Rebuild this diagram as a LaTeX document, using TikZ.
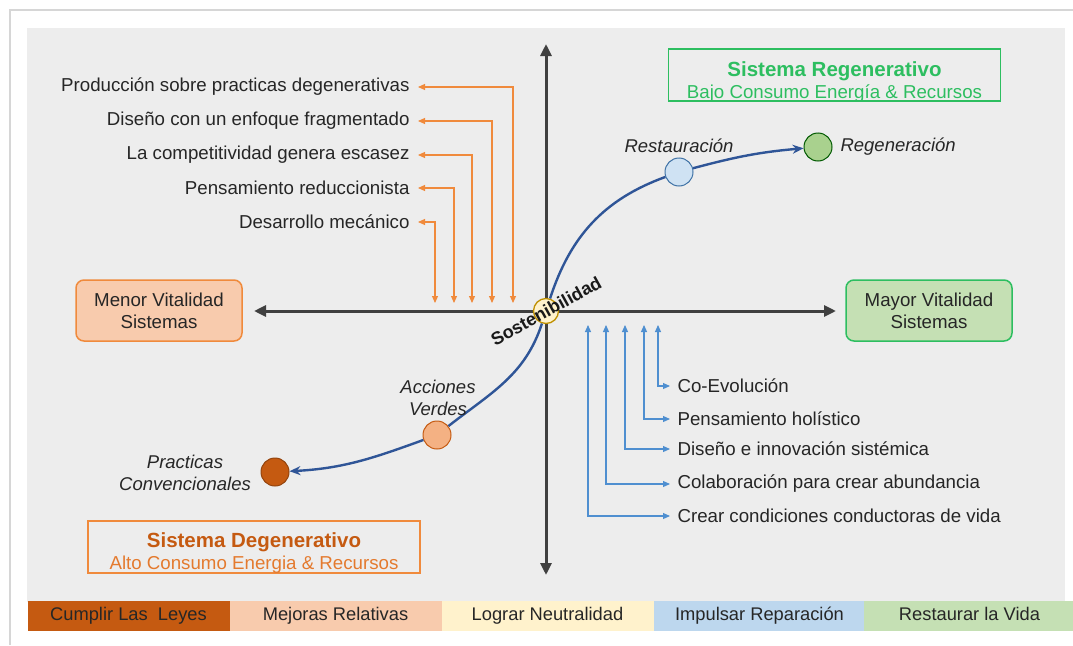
\documentclass[tikz,border=0pt]{standalone}
\usepackage{fontspec}
\setmainfont{Liberation Sans}
\usetikzlibrary{arrows.meta,positioning}
\definecolor{panel}{HTML}{EDEDED}
\definecolor{frame}{HTML}{D6D6D6}
\definecolor{axisc}{HTML}{404040}
\definecolor{txt}{HTML}{262626}
\definecolor{orng}{HTML}{F08A3C}
\definecolor{blu}{HTML}{4F8FD0}
\definecolor{curvec}{HTML}{2F5597}
\definecolor{regc}{HTML}{2DBE60}
\definecolor{degc}{HTML}{C55A11}
\definecolor{degl}{HTML}{E47A2E}
\definecolor{verdc}{HTML}{F4B183}
\definecolor{restc}{HTML}{CFE2F3}
\definecolor{regd}{HTML}{A9D18E}
\definecolor{sostc}{HTML}{BF9000}
\definecolor{barA}{HTML}{C55A11}
\definecolor{barB}{HTML}{F8CBAD}
\definecolor{barC}{HTML}{FFF2CC}
\definecolor{barD}{HTML}{BDD7EE}
\definecolor{barE}{HTML}{C5E0B4}

\begin{document}
\begin{tikzpicture}[x=1pt, y=-1pt,
    every node/.style={text=txt, font=\fontsize{18.7}{22}\selectfont},
    axis/.style={draw=axisc, line width=3pt, >={Triangle[length=12pt,width=11pt]}, <->},
    orngline/.style={draw=orng, line width=1.1pt, >={Triangle[length=7pt,width=6pt]}, <->},
    bluline/.style={draw=blu, line width=1.1pt, >={Triangle[length=7pt,width=6pt]}, <->},
    curveline/.style={draw=curvec, line width=2.4pt, >={Stealth[length=11pt,width=9pt]}},
    dot/.style={circle, minimum size=28pt, inner sep=0pt, line width=1pt},
    vitbox/.style={rounded corners=8pt, line width=1.5pt, minimum width=166pt, minimum height=61pt, align=center},
    sysbox/.style={line width=1.5pt, minimum width=332pt, minimum height=52pt, inner sep=0pt},
    systxt/.style={align=center, inner sep=0pt},
    bar/.style={minimum height=30pt, inner sep=0pt, text height=13.5pt, text depth=4pt,
      font=\fontsize{18.3}{22}\selectfont, text=black!85},
    lbl/.style={font=\fontsize{18.5}{22}\selectfont\itshape, align=center}]
\useasboundingbox (0,0) rectangle (1073,645);
% card and panel
\draw[frame, line width=1.5pt] (10,645) -- (10,10) -- (1073,10);
\fill[panel] (27,28) rectangle (1065,602);

% bottom bar
\node[bar, fill=barA, minimum width=202pt] (cumplir) at (128.5,616) {Cumplir Las\ \ Leyes};
\node[bar, fill=barB, minimum width=212pt] (mejoras) at (335.5,616) {Mejoras Relativas};
\node[bar, fill=barC, minimum width=212pt] (lograr) at (547.5,616) {Lograr Neutralidad};
\node[bar, fill=barD, minimum width=212pt] (impulsar) at (759.5,616) {Impulsar Reparación};
\node[bar, fill=barE, minimum width=212pt] (restaurar) at (969.5,616) {Restaurar la Vida};

% axes
\coordinate (ytop) at (546,44);
\coordinate (ybot) at (546,575);
\coordinate (xleft) at (254,311);
\coordinate (xright) at (836,311);
\draw[axis] (ybot) -- (ytop);
\draw[axis] (xleft) -- (xright);

% system boxes
\node[sysbox, draw=regc] (regen) at (834.5,75) {};
\node[systxt, text=regc] (regentxt) at ([yshift=-7pt]regen.center)
  {{\fontsize{20.5}{22}\selectfont\bfseries Sistema Regenerativo}\\Bajo Consumo Energía \& Recursos};
\node[sysbox, draw=orng] (degen) at (254,547) {};
\node[systxt, text=degl] (degentxt) at ([yshift=-6pt]degen.center)
  {{\fontsize{20.5}{22}\selectfont\bfseries\color{degc} Sistema Degenerativo}\\Alto Consumo Energia \& Recursos};
\node[vitbox, draw=orng, fill=barB] (menor) at (159,310.5) {Menor Vitalidad\\Sistemas};
\node[vitbox, draw=regc, fill=barE] (mayor) at (929,310.5) {Mayor Vitalidad\\Sistemas};

% degenerative list
\node[anchor=east] (prod) at (413,87) {Producción sobre practicas degenerativas};
\node[anchor=east] (frag) at (413,121) {Diseño con un enfoque fragmentado};
\node[anchor=east] (comp) at (413,155) {La competitividad genera escasez};
\node[anchor=east] (redu) at (413,188) {Pensamiento reduccionista};
\node[anchor=east] (meca) at (413,222) {Desarrollo mecánico};
\coordinate (o1) at (513,303);
\coordinate (o2) at (492,303);
\coordinate (o3) at (472,303);
\coordinate (o4) at (454,303);
\coordinate (o5) at (435,303);
\draw[orngline] ([xshift=5pt]prod.east) -| (o1);
\draw[orngline] ([xshift=5pt]frag.east) -| (o2);
\draw[orngline] ([xshift=5pt]comp.east) -| (o3);
\draw[orngline] ([xshift=5pt]redu.east) -| (o4);
\draw[orngline] ([xshift=5pt]meca.east) -| (o5);

% regenerative list
\node[anchor=west] (coev) at (674,386) {Co-Evolución};
\node[anchor=west] (holi) at (674,419) {Pensamiento holístico};
\node[anchor=west] (inno) at (674,449) {Diseño e innovación sistémica};
\node[anchor=west] (abun) at (674,484) {Colaboración para crear abundancia};
\node[anchor=west] (vida) at (674,516) {Crear condiciones conductoras de vida};
\coordinate (u1) at (658,325);
\coordinate (u2) at (644,325);
\coordinate (u3) at (625,325);
\coordinate (u4) at (606,325);
\coordinate (u5) at (588,325);
\draw[bluline] (u1) |- ([xshift=-4pt]coev.west);
\draw[bluline] (u2) |- ([xshift=-4pt]holi.west);
\draw[bluline] (u3) |- ([xshift=-4pt]inno.west);
\draw[bluline] (u4) |- ([xshift=-4pt]abun.west);
\draw[bluline] (u5) |- ([xshift=-4pt]vida.west);

% the S curve
\node[dot, fill=barA, draw=barA!75!black] (conv) at (275,472) {};
\node[dot, fill=verdc, draw=degc] (verdes) at (437,435) {};
\node[dot, fill=restc, draw=blu!80!black] (resta) at (679,172) {};
\node[dot, fill=regd, draw=green!35!black] (regen-dot) at (818,147) {};
\node[circle, minimum size=25pt, inner sep=0pt, fill=barC, draw=sostc, line width=1.3pt] (sost) at (546,311) {};
\draw[curveline, ->] (verdes) to[out=200,in=3] (conv);
\draw[curveline] (verdes) to[out=38,in=252] (sost) to[out=72,in=200] (resta);
\draw[curveline, ->] (resta) to[out=15,in=185] (regen-dot);
\node[rotate=29, font=\fontsize{18}{20}\selectfont\bfseries, text=black!90] (sostlbl) at (546,311) {Sostenibilidad};

\node[lbl] (convlbl) at (185,473) {Practicas\\Convencionales};
\node[lbl] (verdlbl) at (438,398) {Acciones\\Verdes};
\node[lbl] (restlbl) at (679,146) {Restauración};
\node[lbl, anchor=west] (reglbl) at (837,147) {Regeneración};
\end{tikzpicture}
\end{document}
